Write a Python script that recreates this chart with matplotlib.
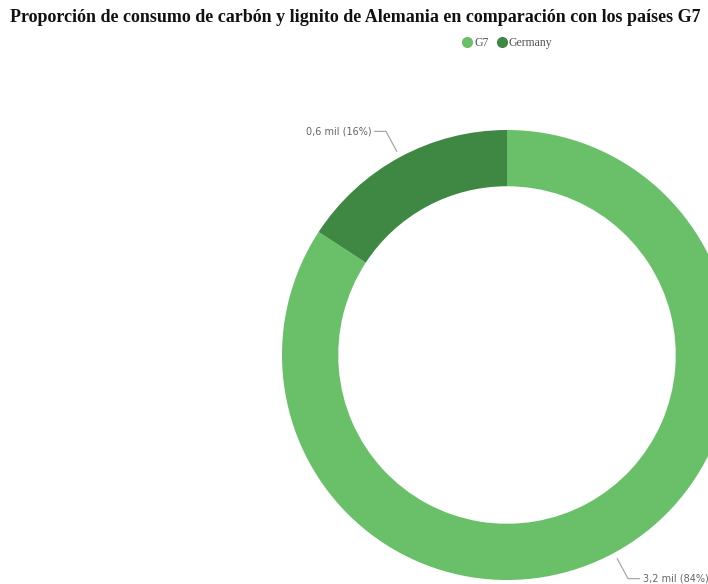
import numpy as np
import matplotlib.pyplot as plt
from matplotlib.lines import Line2D

# coal + lignite consumption, thousands (mil)
categories = ["G7", "Germany"]
values = [3.2, 0.6]
colors = ["#6abf69", "#3f8844"]

title = "Proporción de consumo de carbón y lignito de Alemania en comparación con los países G7"

W, H = 708, 584
fig = plt.figure(figsize=(W / 100, H / 100), dpi=100)

# donut centre and radius in pixels
cx, cy, R = 507, 355, 225
ax = fig.add_axes([(cx - R) / W, (H - cy - R) / H, 2 * R / W, 2 * R / H])

wedges, _ = ax.pie(values, colors=colors, startangle=90, counterclock=False,
                   radius=1.0, wedgeprops=dict(width=0.25, edgecolor="none"))
# pie() resets the limits, so fix them afterwards
ax.set_xlim(-1, 1)
ax.set_ylim(-1, 1)
ax.set_aspect("equal")
ax.axis("off")
for w in wedges:
    w.set_clip_on(False)

total = sum(values)
for w, v in zip(wedges, values):
    mid = np.deg2rad((w.theta1 + w.theta2) / 2)
    pct = round(v / total * 100)
    label = f"{v:.1f}".replace(".", ",") + f" mil ({pct}%)"
    x0, y0 = 1.03 * np.cos(mid), 1.03 * np.sin(mid)
    x1, y1 = 1.13 * np.cos(mid), 1.13 * np.sin(mid)
    side = 1 if np.cos(mid) > 0 else -1
    x2 = x1 + side * 0.05
    ax.add_line(Line2D([x0, x1, x2], [y0, y1, y1], color="#a8a8a8", lw=0.9,
                       clip_on=False))
    ax.text(x2 + side * 0.015, y1, label, ha="left" if side > 0 else "right",
            va="center", fontsize=7, color="#666666", family="DejaVu Sans",
            clip_on=False)

fig.text(10 / W, 1 - 17 / H, title, ha="left", va="center", fontsize=13,
         fontweight="bold", family="Liberation Serif", color="#111111")

handles = [Line2D([], [], marker="o", ls="", color=c, markersize=7) for c in colors]
fig.legend(handles, categories, loc="center", bbox_to_anchor=(507 / W, 1 - 43 / H),
           ncol=2, frameon=False, handletextpad=0.1, columnspacing=0.6,
           handlelength=1.0, prop=dict(family="Liberation Serif", size=8.5),
           labelcolor="#555555")

fig.savefig("out.png", dpi=100)
